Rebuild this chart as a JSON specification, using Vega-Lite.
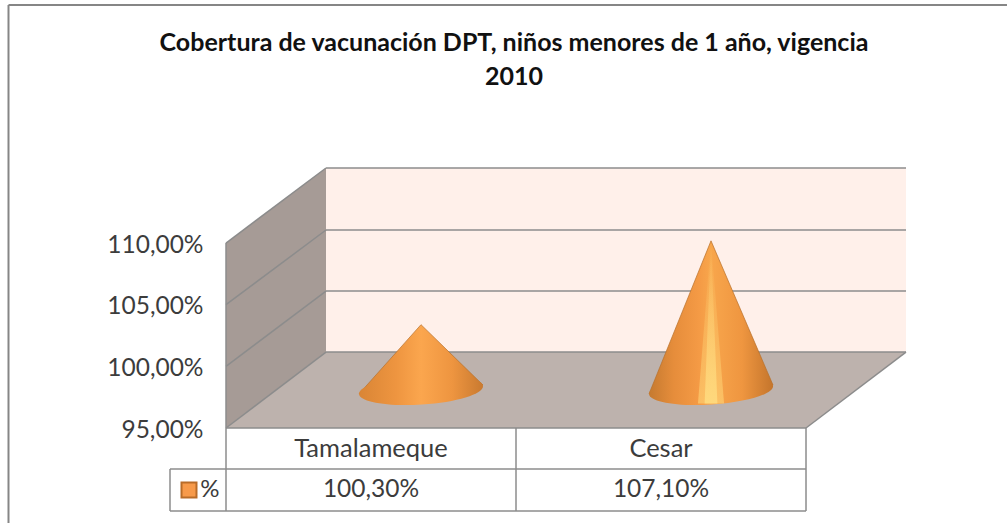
{
"$schema":"https://vega.github.io/schema/vega-lite/v6.json",
"width":680,"height":260,
"autosize":{"type":"none"},
"padding":{"left":226,"top":168,"right":101,"bottom":95},
"background":"white",
"title":{"text":["Cobertura de vacunación DPT, niños menores de 1 año, vigencia","2010"],"font":"Lato","fontSize":25,"fontWeight":"bold","color":"#111111","lineHeight":34,"anchor":"middle","dx":-52,"offset":-86},
"config":{"view":{"stroke":null},"font":"Lato"},
"datasets":{
"superficies":[
{"parte":"pared lateral","x":0,"y":110,"y2":95},
{"parte":"pared lateral","x":0.3448,"y":116.09,"y2":101.16},
{"parte":"pared fondo","x":0.3448,"y":116.09,"y2":101.16},
{"parte":"pared fondo","x":2.3448,"y":116.09,"y2":101.16},
{"parte":"piso","x":0,"y":95,"y2":95},
{"parte":"piso","x":0.3448,"y":101.16,"y2":95},
{"parte":"piso","x":2,"y":101.16,"y2":95},
{"parte":"piso","x":2.3448,"y":101.16,"y2":101.16}
],
"marco":[
{"x":-0.75,"y":129.31,"x2":2.693,"y2":129.31},
{"x":-0.75,"y":129.31,"x2":-0.75,"y2":87.3}
],
"lineas":[
{"x":0.3448,"y":116.09,"x2":2.3448,"y2":116.09},
{"x":0.3448,"y":111.06,"x2":2.3448,"y2":111.06},
{"x":0.3448,"y":106.11,"x2":2.3448,"y2":106.11},
{"x":0.3448,"y":101.16,"x2":2.3448,"y2":101.16},
{"x":0,"y":110,"x2":0.3448,"y2":116.09},
{"x":0,"y":105,"x2":0.3448,"y2":111.06},
{"x":0,"y":100,"x2":0.3448,"y2":106.11},
{"x":0,"y":95,"x2":0.3448,"y2":101.16},
{"x":2,"y":95,"x2":2.3448,"y2":101.16},
{"x":0,"y":110,"x2":0,"y2":88.27},
{"x":0,"y":95,"x2":2,"y2":95},
{"x":-0.1931,"y":91.67,"x2":2,"y2":91.67},
{"x":-0.1931,"y":88.27,"x2":2,"y2":88.27},
{"x":-0.1931,"y":91.67,"x2":-0.1931,"y2":88.27},
{"x":1,"y":95,"x2":1,"y2":88.27},
{"x":2,"y":95,"x2":2,"y2":88.27}
],
"conos":[
{"municipio":"Tamalameque","x":0.2862,"y":94.68,"y2":94.68},
{"municipio":"Tamalameque","x":0.5,"y":100.3,"y2":95.04},
{"municipio":"Tamalameque","x":0.7138,"y":95.4,"y2":95.4},
{"municipio":"Cesar","x":1.2862,"y":94.68,"y2":94.68},
{"municipio":"Cesar","x":1.5,"y":107.1,"y2":95.04},
{"municipio":"Cesar","x":1.7138,"y":95.4,"y2":95.4}
],
"brillo":[
{"banda":"ancha","x":1.455,"y":93.9,"y2":93.9},
{"banda":"ancha","x":1.5,"y":107.1,"y2":93.9},
{"banda":"ancha","x":1.545,"y":93.9,"y2":93.9},
{"banda":"media","x":1.478,"y":93.9,"y2":93.9},
{"banda":"media","x":1.5,"y":107.1,"y2":93.9},
{"banda":"media","x":1.522,"y":93.9,"y2":93.9}
],
"tabla":[
{"municipio":"Tamalameque","valor":"100,30%","x":0.5},
{"municipio":"Cesar","valor":"107,10%","x":1.5}
],
"leyenda":[{"serie":"%","x":-0.1276,"texto":-0.0552,"y":89.97}]
},
"encoding":{
"x":{"type":"quantitative","scale":{"domain":[0,2.3448],"nice":false,"zero":false},"axis":null},
"y":{"type":"quantitative","scale":{"domain":[95,116.09],"nice":false,"zero":false},"axis":{"values":[95,100,105,110],"domain":false,"ticks":false,"grid":false,"title":null,"labelPadding":23,"labelFont":"Lato","labelFontSize":24.5,"labelColor":"#3c3c3c","labelOffset":2,"labelExpr":"replace(format(datum.value,'.2f'),'.',',')+'%'"}}
},
"layer":[
{"data":{"name":"superficies"},"mark":{"type":"area","interpolate":"linear"},
 "encoding":{"x":{"field":"x","type":"quantitative"},"y":{"field":"y","type":"quantitative"},"y2":{"field":"y2"},
 "color":{"field":"parte","type":"nominal","legend":null,"scale":{"domain":["pared lateral","pared fondo","piso"],"range":["#a69b96","#fff0ea","#bdb2ad"]}}}},
{"data":{"name":"lineas"},"mark":{"type":"rule","color":"#8c8c8c","strokeWidth":1.5},
 "encoding":{"x":{"field":"x","type":"quantitative"},"y":{"field":"y","type":"quantitative"},"x2":{"field":"x2"},"y2":{"field":"y2"}}},
{"data":{"name":"marco"},"mark":{"type":"rule","color":"#868686","strokeWidth":2},
 "encoding":{"x":{"field":"x","type":"quantitative"},"y":{"field":"y","type":"quantitative"},"x2":{"field":"x2"},"y2":{"field":"y2"}}},
{"data":{"name":"conos"},"transform":[{"filter":"datum.municipio==='Tamalameque'"}],
 "mark":{"type":"area","xOffset":50,"yOffset":-38,"y2Offset":-38,"stroke":"#b8702a","strokeWidth":0.7,"fill":{"gradient":"linear","x1":0,"y1":0,"x2":1,"y2":0,"stops":[{"offset":0,"color":"#d98535"},{"offset":0.3,"color":"#ee9540"},{"offset":0.5,"color":"#fba64e"},{"offset":0.75,"color":"#ee9540"},{"offset":1,"color":"#c97a30"}]}},
 "encoding":{"x":{"field":"x","type":"quantitative"},"y":{"field":"y","type":"quantitative"},"y2":{"field":"y2"}}},
{"data":{"name":"conos"},"transform":[{"filter":"datum.municipio==='Cesar'"}],
 "mark":{"type":"area","xOffset":50,"yOffset":-38,"y2Offset":-38,"stroke":"#b8702a","strokeWidth":0.7,"fill":{"gradient":"linear","x1":0,"y1":0,"x2":1,"y2":0,"stops":[{"offset":0,"color":"#c57a30"},{"offset":0.2,"color":"#e68d3b"},{"offset":0.4,"color":"#f49a45"},{"offset":0.5,"color":"#f8a64c"},{"offset":0.75,"color":"#ef9640"},{"offset":1,"color":"#c4752c"}]}},
 "encoding":{"x":{"field":"x","type":"quantitative"},"y":{"field":"y","type":"quantitative"},"y2":{"field":"y2"}}},
{"data":{"name":"tabla"},"transform":[{"filter":"datum.municipio==='Tamalameque'"}],
 "mark":{"type":"point","filled":true,"opacity":1,"size":15376,"xOffset":50,"yOffset":-38,"shape":"M-1,0.065 A1,0.235,-3.7,1,0,1,-0.065 A1,0.235,-3.7,1,0,-1,0.065 Z","fill":{"gradient":"linear","x1":0,"y1":0,"x2":1,"y2":0,"stops":[{"offset":0,"color":"#d98535"},{"offset":0.3,"color":"#ee9540"},{"offset":0.5,"color":"#fba64e"},{"offset":0.75,"color":"#ee9540"},{"offset":1,"color":"#c97a30"}]}},
 "encoding":{"x":{"field":"x","type":"quantitative"},"y":{"datum":95.0}}},
{"data":{"name":"tabla"},"transform":[{"filter":"datum.municipio==='Cesar'"}],
 "mark":{"type":"point","filled":true,"opacity":1,"size":15376,"xOffset":50,"yOffset":-38,"shape":"M-1,0.065 A1,0.235,-3.7,1,0,1,-0.065 A1,0.235,-3.7,1,0,-1,0.065 Z","fill":{"gradient":"linear","x1":0,"y1":0,"x2":1,"y2":0,"stops":[{"offset":0,"color":"#c57a30"},{"offset":0.2,"color":"#e68d3b"},{"offset":0.4,"color":"#f49a45"},{"offset":0.5,"color":"#f8a64c"},{"offset":0.75,"color":"#ef9640"},{"offset":1,"color":"#c4752c"}]}},
 "encoding":{"x":{"field":"x","type":"quantitative"},"y":{"datum":95.0}}},
{"data":{"name":"brillo"},"transform":[{"filter":"datum.banda==='ancha'"}],
 "mark":{"type":"area","xOffset":50,"yOffset":-38,"y2Offset":-38,"fill":{"gradient":"linear","x1":0,"y1":0,"x2":0,"y2":1,"stops":[{"offset":0,"color":"rgba(255,214,120,0)"},{"offset":1,"color":"rgba(255,214,120,0.6)"}]}},
 "encoding":{"x":{"field":"x","type":"quantitative"},"y":{"field":"y","type":"quantitative"},"y2":{"field":"y2"}}},
{"data":{"name":"brillo"},"transform":[{"filter":"datum.banda==='media'"}],
 "mark":{"type":"area","xOffset":50,"yOffset":-38,"y2Offset":-38,"fill":{"gradient":"linear","x1":0,"y1":0,"x2":0,"y2":1,"stops":[{"offset":0,"color":"rgba(255,222,130,0)"},{"offset":1,"color":"rgba(255,222,130,0.8)"}]}},
 "encoding":{"x":{"field":"x","type":"quantitative"},"y":{"field":"y","type":"quantitative"},"y2":{"field":"y2"}}},
{"data":{"name":"tabla"},"mark":{"type":"text","font":"Lato","fontSize":25.5,"color":"#3c3c3c","baseline":"middle"},
 "encoding":{"x":{"field":"x","type":"quantitative"},"y":{"datum":93.3},"text":{"field":"municipio"}}},
{"data":{"name":"tabla"},"mark":{"type":"text","font":"Lato","fontSize":24.5,"color":"#3c3c3c","baseline":"middle"},
 "encoding":{"x":{"field":"x","type":"quantitative"},"y":{"datum":89.97},"text":{"field":"valor"}}},
{"data":{"name":"leyenda"},"mark":{"type":"point","shape":"square","filled":true,"opacity":1,"size":225,"fill":"#f79a4a","stroke":"#b96c28","strokeWidth":2},
 "encoding":{"x":{"field":"x","type":"quantitative"},"y":{"field":"y","type":"quantitative"}}},
{"data":{"name":"leyenda"},"mark":{"type":"text","font":"Lato","fontSize":24,"color":"#3c3c3c","baseline":"middle"},
 "encoding":{"x":{"field":"texto","type":"quantitative"},"y":{"field":"y","type":"quantitative"},"text":{"field":"serie"}}}
]
}
